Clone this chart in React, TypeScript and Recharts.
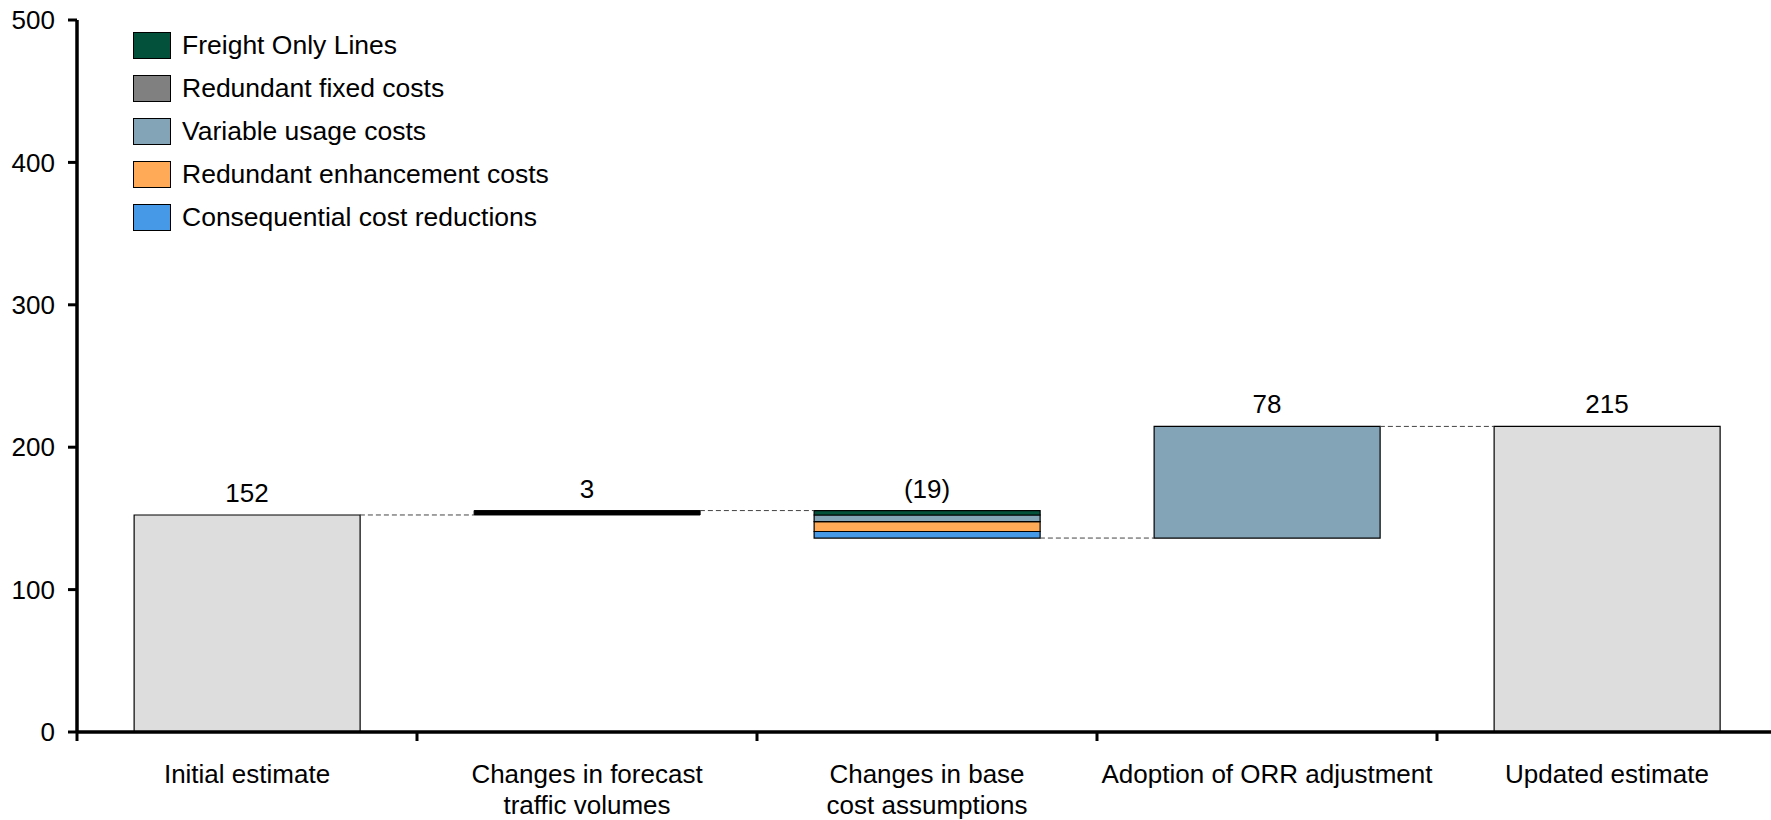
import React from "react"
import { ComposedChart, Bar, Line, XAxis, YAxis } from "recharts"

const categories = [
  "Initial estimate",
  "Changes in forecast\ntraffic volumes",
  "Changes in base\ncost assumptions",
  "Adoption of ORR adjustment",
  "Updated estimate",
]

const initialEstimate = 152.4
const trafficChange = 3.1
const orrChange = 78.4

// breakdown of the base cost change, legend order (top of stack first)
const costSeries = [
  "Freight Only Lines",
  "Redundant fixed costs",
  "Variable usage costs",
  "Redundant enhancement costs",
  "Consequential cost reductions",
]
const costKeys = ["freight", "fixed", "variable", "enhancement", "consequential"]
const costChanges = [-3.1, 0, -4.7, -6.9, -4.6]
const costColors = ["#04513B", "#808080", "#83A3B7", "#FFAA57", "#4699E6"]

const yTicks = [0, 100, 200, 300, 400, 500]

const CHART_W = 1780
const CHART_H = 820
const Y_AXIS_W = 77
const MARGIN = { top: 20, right: 3, left: 0, bottom: 0 }
const PLOT_W = CHART_W - MARGIN.left - MARGIN.right - Y_AXIS_W
const BAND = PLOT_W / categories.length
const GAP = 0.168
const FONT = "'Liberation Sans', Arial, sans-serif"

const fmt = (v: number) => (v < 0 ? `(${Math.round(-v)})` : `${Math.round(v)}`)

const baseCostTotal = costChanges.reduce((a, b) => a + b, 0)
const afterTraffic = initialEstimate + trafficChange
const afterBase = afterTraffic + baseCostTotal
const updatedEstimate = afterBase + orrChange

const changes = [initialEstimate, trafficChange, baseCostTotal, orrChange, updatedEstimate]
const bases = [0, initialEstimate, afterBase, afterBase, 0]
const levels = [initialEstimate, afterTraffic, afterBase, updatedEstimate, null]
const tops = [initialEstimate, afterTraffic, afterTraffic, updatedEstimate, updatedEstimate]

const data = categories.map((name, i) => {
  const row: Record<string, any> = {
    name,
    base: bases[i],
    level: levels[i],
    top: tops[i],
    label: fmt(changes[i]),
    total: i === 0 || i === 4 ? changes[i] : 0,
    traffic: i === 1 ? trafficChange : 0,
    orr: i === 3 ? orrChange : 0,
  }
  costKeys.forEach((k, j) => {
    row[k] = i === 2 ? -costChanges[j] : 0
  })
  return row
})

function CategoryTick({ x, y, payload }: any) {
  const lines = String(payload.value).split("\n")
  const left = x - BAND / 2
  return (
    <g>
      <line x1={left} x2={left} y1={y} y2={y + 9} stroke="#000" strokeWidth={3} />
      {lines.map((l, i) => (
        <text key={i} x={x} y={y + 51 + i * 31} textAnchor="middle" fontSize={26} fill="#000">
          {l}
        </text>
      ))}
    </g>
  )
}

function Connector(props: any) {
  const { cx, cy, value, index } = props
  if (value == null || cy == null || isNaN(cy)) return <g key={`c-${index}`} />
  const gap = BAND * GAP
  return (
    <line
      key={`c-${index}`}
      x1={cx + BAND / 2 - gap}
      x2={cx + BAND / 2 + gap}
      y1={cy}
      y2={cy}
      stroke="#444"
      strokeWidth={1}
      strokeDasharray="5 3"
    />
  )
}

function ValueLabel({ x, y, index }: any) {
  return (
    <text key={`l-${index}`} x={x} y={y - 13} textAnchor="middle" fontSize={26} fill="#000">
      {data[index].label}
    </text>
  )
}

function CostLegend() {
  return (
    <div style={{ position: "absolute", left: 133, top: 24, fontFamily: FONT }}>
      {costSeries.map((name, i) => (
        <div key={name} style={{ display: "flex", alignItems: "center", height: 43 }}>
          <span
            style={{
              width: 38,
              height: 27,
              background: costColors[i],
              border: "1px solid #000",
              boxSizing: "border-box",
            }}
          />
          <span style={{ marginLeft: 11, fontSize: 26.5, color: "#000" }}>{name}</span>
        </div>
      ))}
    </div>
  )
}

export default function App() {
  const stackOrder = [...costKeys].reverse()
  return (
    <div style={{ position: "relative", width: 1771, height: CHART_H, overflow: "hidden", fontFamily: FONT }}>
      <style>{"body{margin:0}"}</style>
      <ComposedChart width={CHART_W} height={CHART_H} data={data} margin={MARGIN} barCategoryGap={`${GAP * 100}%`}>
        <XAxis
          dataKey="name"
          height={88}
          interval={0}
          axisLine={{ stroke: "#000", strokeWidth: 3.5 }}
          tickLine={false}
          tickSize={0}
          tickMargin={0}
          tick={<CategoryTick />}
        />
        <YAxis
          domain={[0, 500]}
          ticks={yTicks}
          interval={0}
          width={Y_AXIS_W}
          axisLine={{ stroke: "#000", strokeWidth: 3.5 }}
          tickLine={{ stroke: "#000", strokeWidth: 3 }}
          tickSize={9}
          tickMargin={13}
          tick={{ fill: "#000", fontSize: 26 }}
        />
        <Bar dataKey="base" stackId="w" fill="transparent" isAnimationActive={false} />
        <Bar dataKey="total" stackId="w" fill="#DDDDDD" stroke="#000" strokeWidth={1.2} isAnimationActive={false} />
        <Bar dataKey="traffic" stackId="w" fill="#000" stroke="#000" strokeWidth={1} isAnimationActive={false} />
        <Bar dataKey="orr" stackId="w" fill="#83A3B7" stroke="#000" strokeWidth={1.2} isAnimationActive={false} />
        {stackOrder.map((k) => (
          <Bar
            key={k}
            dataKey={k}
            stackId="w"
            fill={costColors[costKeys.indexOf(k)]}
            stroke="#000"
            strokeWidth={1.2}
            isAnimationActive={false}
          />
        ))}
        <Line dataKey="level" stroke="none" dot={Connector} activeDot={false} isAnimationActive={false} />
        <Line dataKey="top" stroke="none" dot={false} activeDot={false} label={ValueLabel} isAnimationActive={false} />
      </ComposedChart>
      <CostLegend />
    </div>
  )
}
